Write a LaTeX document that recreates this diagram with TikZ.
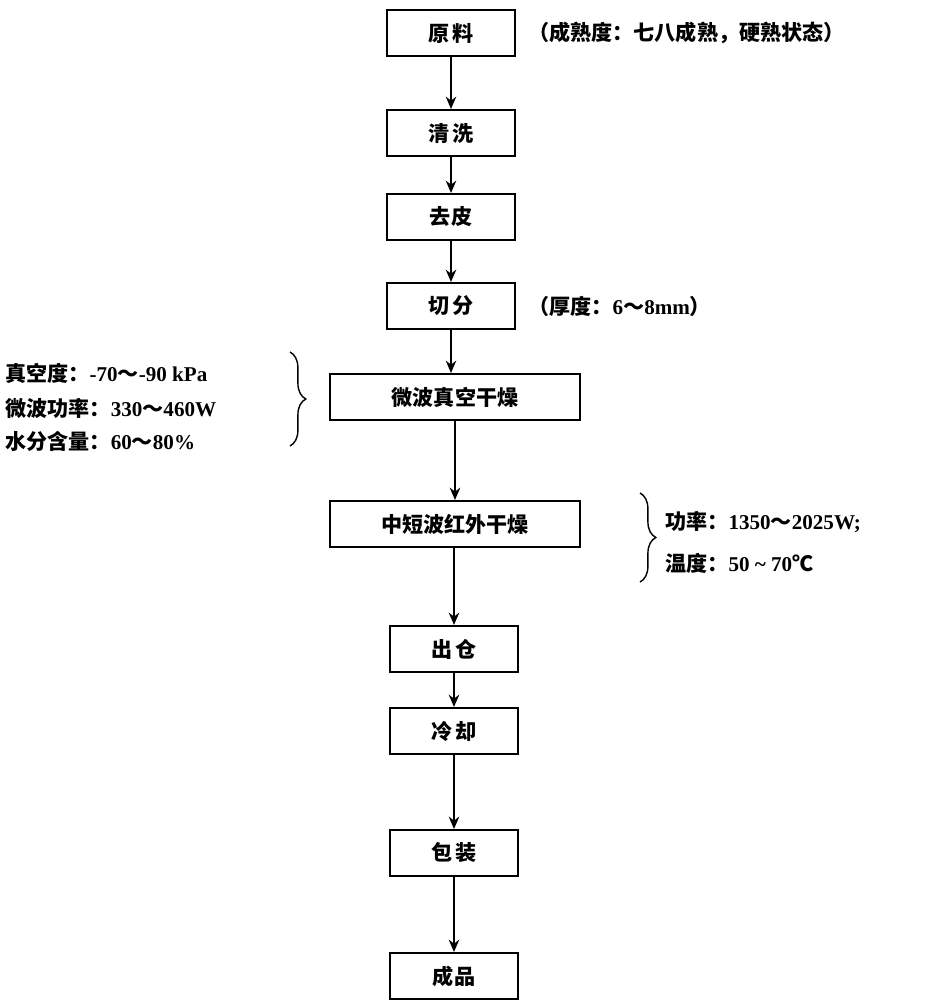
\documentclass[tikz,border=0pt]{standalone}
\usepackage{fontspec}
\setmainfont{Liberation Serif}
\newfontfamily\cjk{Noto Sans CJK SC}
\usetikzlibrary{decorations.pathreplacing,arrows.meta}
\tikzset{
  stage/.style={draw, line width=1.2pt, minimum width=2.56cm, minimum height=0.92cm,
    font=\cjk\fontsize{12}{14}\selectfont\bfseries},
  wide stage/.style={stage, minimum width=5cm},
  note/.style={font=\fontsize{12}{14}\selectfont\bfseries, inner sep=0pt},
  flow/.style={-{Stealth[length=7pt,width=6pt]}, line width=0.8pt},
  curly/.style={decorate, decoration={brace, amplitude=9pt}, line width=0.8pt}
}
\newcommand\til{{\cjk ～}}
\begin{document}
\begin{tikzpicture}[x=0.02cm, y=-0.02cm]
\useasboundingbox (0,0) rectangle (942,1000);
% stages
\node[stage] (raw) at (451,33) {原\,料};
\node[stage] (wash) at (451,133) {清\,洗};
\node[stage] (peel) at (451,217) {去皮};
\node[stage] (cut) at (451,306) {切\,分};
\node[wide stage] (mwave) at (455,397) {微波真空干燥};
\node[wide stage] (infra) at (455,524) {中短波红外干燥};
\node[stage] (out) at (454,649) {出\,仓};
\node[stage] (cool) at (454,731) {冷\,却};
\node[stage] (pack) at (454,853) {包\,装};
\node[stage] (done) at (454,976) {成品};
% arrows
\draw[flow] (raw) -- (wash);
\draw[flow] (wash) -- (peel);
\draw[flow] (peel) -- (cut);
\draw[flow] (cut) -- (cut|-mwave.north);
\draw[flow] (mwave) -- (mwave|-infra.north);
\draw[flow] (infra.south-|out) -- (out);
\draw[flow] (out) -- (cool);
\draw[flow] (cool) -- (pack);
\draw[flow] (pack) -- (done);
% notes
\node[note, anchor=west] (rawnote) at (528,33) {{\cjk （成熟度：七八成熟，硬熟状态）}};
\node[note, anchor=west] (cutnote) at (528,306) {{\cjk （厚度：}6\til8mm{\cjk ）}};
\node[note, anchor=west] (vac) at (5,373) {{\cjk 真空度：}-70\til-90 kPa};
\node[note, anchor=west] (pow) at (5,408) {{\cjk 微波功率：}330\til460W};
\node[note, anchor=west] (wat) at (5,441) {{\cjk 水分含量：}60\til80\%};
\node[note, anchor=west] (ipow) at (665,522) {{\cjk 功率：}1350\til2025W;};
\node[note, anchor=west] (temp) at (665,563) {{\cjk 温度：}50 \textasciitilde{} 70{\cjk ℃}};
\coordinate (lb1) at (290,352);
\coordinate (lb2) at (290,446);
\coordinate (rb1) at (640,493);
\coordinate (rb2) at (640,582);
\draw[curly] (lb1) -- (lb2);
\draw[curly] (rb1) -- (rb2);
\end{tikzpicture}
\end{document}
